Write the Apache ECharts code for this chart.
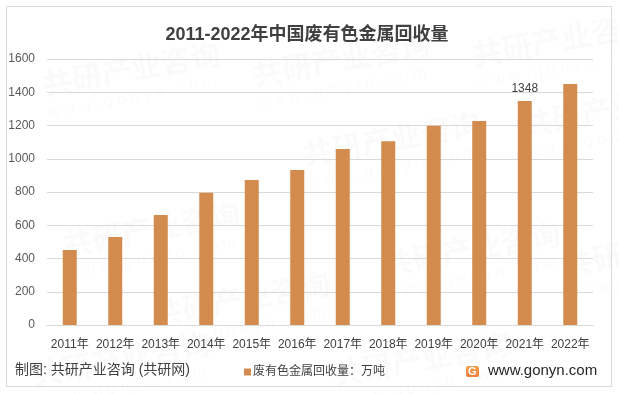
<!DOCTYPE html>
<html>
<head>
<meta charset="utf-8">
<style>
html,body{margin:0;padding:0;background:#fff;}
#chart{width:619px;height:394px;}
</style>
<script src="https://cdn.jsdelivr.net/npm/echarts@6/dist/echarts.min.js"></script>
</head>
<body>
<div id="chart"></div>
<script>
const categories = ['2011年','2012年','2013年','2014年','2015年','2016年','2017年','2018年','2019年','2020年','2021年','2022年'];
const values = [451, 529, 662, 795, 872, 932, 1059, 1106, 1198, 1227, 1348, 1450];
const labeledIndex = [10];
const yTicks = [0, 200, 400, 600, 800, 1000, 1200, 1400, 1600];
const seriesName = '废有色金属回收量：万吨';
const titleText = '2011-2022年中国废有色金属回收量';
const sourceText = '制图: 共研产业咨询 (共研网)';
const siteText = 'www.gonyn.com';

const FONT = '"Liberation Sans", "Noto Sans CJK SC", sans-serif';
const BAR = '#D48B4E';

const chart = echarts.init(document.getElementById('chart'), null, {renderer: 'canvas'});

const wmPos = [[40,70],[250,60],[470,40],[60,230],[300,140],[520,110],[150,300],[380,250],[560,250],[330,360],[30,360]];
const watermarks = wmPos.map(p => ({
  type: 'group', x: p[0], y: p[1], rotation: 0.18, silent: true, z: 0,
  children: [
    {type: 'text', style: {text: '共研产业咨询', font: 'bold 30px "Noto Sans CJK SC"', fill: 'rgba(0,0,0,0.018)'}},
    {type: 'text', y: 36, style: {text: 'w w w . g o n y n . c o m', font: '16px "Liberation Sans"', fill: 'rgba(0,0,0,0.018)'}}
  ]
}));

chart.setOption({
  animation: false,
  backgroundColor: '#ffffff',
  title: {
    text: titleText,
    left: 302, top: 21, textAlign: 'center',
    textStyle: {fontFamily: FONT, fontSize: 18, fontWeight: 'bold', color: '#404040'}
  },
  legend: {
    data: [seriesName],
    left: 239, top: 361,
    itemWidth: 7, itemHeight: 7, itemGap: 4,
    icon: 'rect',
    textStyle: {fontFamily: FONT, fontSize: 12, color: '#404040', padding: [0,0,0,-3]}
  },
  grid: {left: 47, right: 26, top: 59, bottom: 69, containLabel: false},
  xAxis: {
    type: 'category',
    data: categories,
    axisLine: {lineStyle: {color: '#d9d9d9'}},
    axisTick: {show: false},
    axisLabel: {fontFamily: FONT, fontSize: 12, color: '#404040', margin: 14, interval: 0}
  },
  yAxis: {
    type: 'value',
    min: yTicks[0], max: yTicks[yTicks.length - 1], interval: 200,
    axisLine: {show: false},
    axisTick: {show: false},
    splitLine: {lineStyle: {color: '#d9d9d9'}},
    axisLabel: {fontFamily: FONT, fontSize: 12, color: '#595959', margin: 12, formatter: v => String(v)}
  },
  series: [{
    name: seriesName,
    type: 'bar',
    barWidth: 14,
    itemStyle: {color: BAR},
    data: values.map((v, i) => labeledIndex.includes(i)
      ? {value: v, label: {show: true, position: 'top', distance: 6, fontFamily: FONT, fontSize: 12, color: '#404040'}}
      : v)
  }],
  graphic: [
    ...watermarks,
    {type: 'rect', shape: {x: 6.5, y: 6.5, width: 605, height: 380}, style: {fill: null, stroke: '#d9d9d9', lineWidth: 1}, silent: true, z: 1},
    {type: 'text', left: 15, top: 363, style: {text: sourceText, font: '14px "Liberation Sans", "Noto Sans CJK SC"', fill: '#404040'}},
    {type: 'group', left: 466, top: 366, children: [
      {type: 'rect', shape: {x: 0, y: 0, width: 13, height: 11, r: 2}, style: {fill: new echarts.graphic.LinearGradient(0,0,0,1,[{offset:0,color:'#F5A04A'},{offset:1,color:'#F07E3C'}])}},
      {type: 'text', x: 2, y: 0, style: {text: 'G', font: 'bold 11px "Liberation Sans"', fill: '#fff'}}
    ]},
    {type: 'text', left: 488, top: 363, style: {text: siteText, font: '15px "Liberation Sans"', fill: '#262626'}}
  ]
});
</script>
</body>
</html>
